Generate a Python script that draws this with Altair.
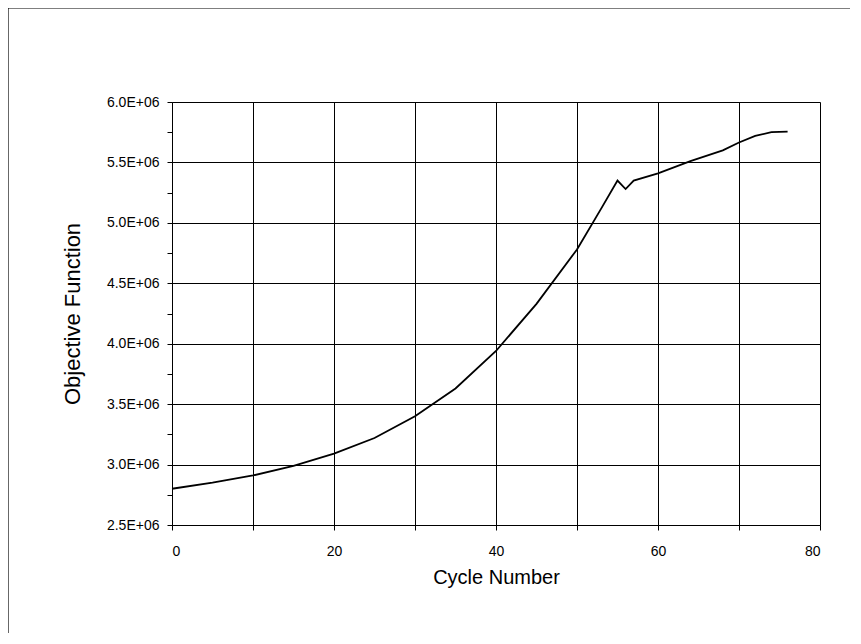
import altair as alt
import pandas as pd

cycles = [0, 5, 10, 15, 20, 25, 30, 35, 40, 45, 50, 53, 55, 56, 57, 60, 64, 68, 70, 72, 74, 76]
objective = [2.80e6, 2.85e6, 2.91e6, 2.99e6, 3.09e6, 3.22e6, 3.40e6, 3.63e6, 3.94e6, 4.33e6,
             4.78e6, 5.12e6, 5.35e6, 5.28e6, 5.35e6, 5.41e6, 5.51e6, 5.60e6, 5.665e6, 5.72e6,
             5.75e6, 5.755e6]

x_ticks = [0, 10, 20, 30, 40, 50, 60, 70, 80]
y_ticks = [2.5e6 + 0.25e6 * i for i in range(15)]

df = pd.DataFrame({"cycle": cycles, "obj": objective})

W, H = 648, 423
FONT = "Liberation Sans"

x_enc = alt.X(
    "cycle:Q",
    scale=alt.Scale(domain=[0, 80], nice=False),
    axis=alt.Axis(
        values=x_ticks,
        title="Cycle Number",
        labelExpr="datum.value % 20 == 0 ? datum.label : ''",
        grid=True, gridColor="black", gridWidth=1, gridOpacity=1,
        domainColor="black", tickColor="black", tickSize=5,
        labelFontSize=14, labelPadding=14, titleFontSize=20, titlePadding=9,
        labelColor="black", titleColor="black", titleFontWeight="normal",
    ),
)
y_enc = alt.Y(
    "obj:Q",
    scale=alt.Scale(domain=[2.5e6, 6.0e6], nice=False, zero=False),
    axis=alt.Axis(
        values=y_ticks,
        title="Objective Function",
        labelExpr="datum.value % 500000 == 0 ? format(datum.value / 1000000, '.1f') + 'E+06' : ''",
        grid=True, gridColor="black", gridWidth=1,
        gridOpacity={"condition": {"test": "datum.value % 500000 != 0", "value": 0}, "value": 1},
        domainColor="black", tickColor="black", tickSize=5,
        labelFontSize=14, labelPadding=8, titleFontSize=22, titlePadding=22,
        labelColor="black", titleColor="black", titleFontWeight="normal",
    ),
)

line = alt.Chart(df).mark_line(color="black", strokeWidth=1.8, clip=False).encode(x=x_enc, y=y_enc)

dummy = pd.DataFrame({"a": [0]})
frame_left = alt.Chart(dummy).mark_rule(color="black", strokeWidth=1.2, clip=False).encode(
    x=alt.value(-164), y=alt.value(-94), y2=alt.value(H + 120),
)
frame_top = alt.Chart(dummy).mark_rule(color="black", strokeWidth=1.2, clip=False).encode(
    x=alt.value(-164), x2=alt.value(W + 40), y=alt.value(-94),
)

chart = alt.layer(frame_left, frame_top, line).properties(
    width=W, height=H,
    autosize=alt.AutoSizeParams(type="none"),
    padding={"left": 164, "top": 94, "right": 30, "bottom": 108},
).configure_view(stroke="black", strokeWidth=1).configure(font=FONT, background="white")

chart.save("out.html", embed_options={"renderer": "svg", "actions": False})
